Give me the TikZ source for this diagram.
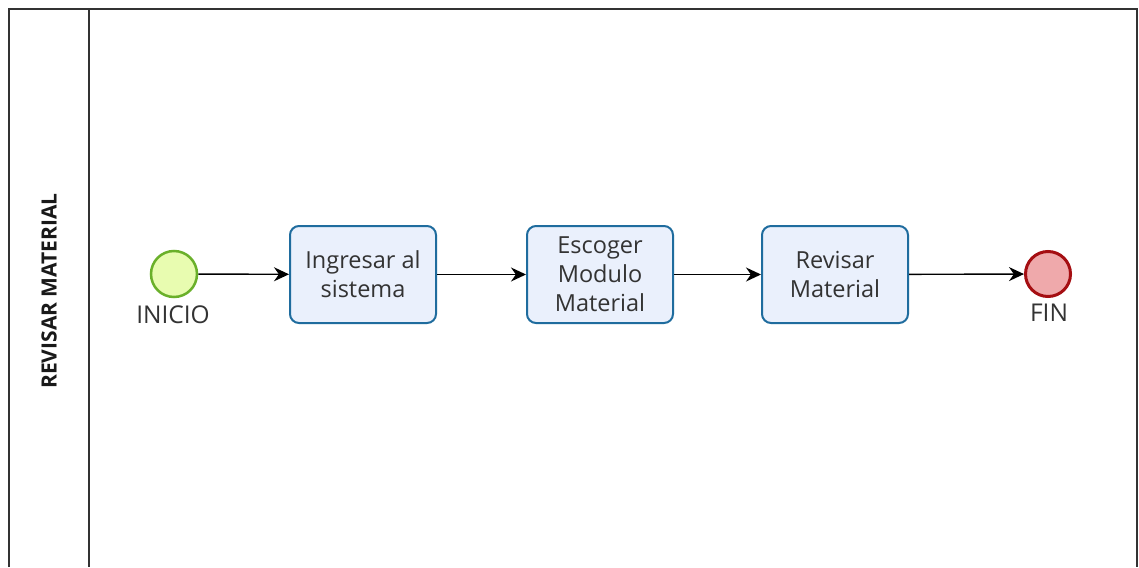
\documentclass[tikz,border=0pt]{standalone}
\usepackage{fontspec}
\setmainfont{Open Sans}
\usetikzlibrary{arrows.meta}
\definecolor{taskfill}{HTML}{EAF0FC}
\definecolor{taskdraw}{HTML}{1F6C9E}
\definecolor{startfill}{HTML}{E8FCB0}
\definecolor{startdraw}{HTML}{6AB02A}
\definecolor{endfill}{HTML}{EFA9AB}
\definecolor{enddraw}{HTML}{A50E12}
\definecolor{txt}{HTML}{333333}
\tikzset{
  task/.style={draw=taskdraw, fill=taskfill, line width=2pt, rounded corners=9pt,
    minimum width=146pt, minimum height=97pt, inner sep=0pt, align=center,
    text=txt, font=\fontsize{23.5}{29}\selectfont},
  startev/.style={circle, draw=startdraw, fill=startfill, line width=2.5pt, minimum size=46pt, inner sep=0pt},
  endev/.style={circle, draw=enddraw, fill=endfill, line width=3pt, minimum size=45pt, inner sep=0pt},
  evlabel/.style={text=txt, font=\fontsize{24.5}{28}\selectfont},
  flow/.style={-{Stealth[length=15pt,width=14pt]}, line width=1.4pt, black},
  frame/.style={line width=1.8pt, draw=black!80}
}
\begin{document}
\begin{tikzpicture}[x=1pt,y=-1pt]
\useasboundingbox (0,0) rectangle (1139,567);
\fill[white] (0,0) rectangle (1139,567);
\draw[frame] (9,567) -- (9,9) -- (1137,9) -- (1137,567);
\draw[frame] (89,9) -- (89,567);
\node[rotate=90, font=\bfseries\fontsize{21}{24}\selectfont, text=black!90] (lane) at (49,291) {REVISAR MATERIAL};
\node[startev] (start) at (174,274) {};
\node[evlabel] (startlbl) at (173,315) {INICIO};
\node[task] (t1) at (363,274.5) {Ingresar al\\sistema};
\node[task] (t2) at (600,274.5) {Escoger\\Modulo\\Material};
\node[task] (t3) at (835,274.5) {Revisar\\Material};
\node[endev] (end) at (1048,274) {};
\node[evlabel] (endlbl) at (1049,313) {FIN};
\draw[flow] (start) -- (t1);
\draw[flow] (t1) -- (t2);
\draw[flow] (t2) -- (t3);
\draw[flow] (t3) -- (end);
\end{tikzpicture}
\end{document}
